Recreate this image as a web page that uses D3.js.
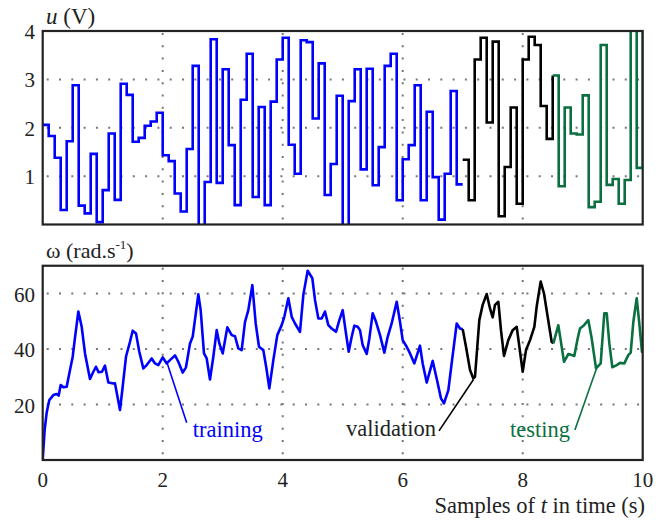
<!DOCTYPE html>
<html><head><meta charset="utf-8">
<script src="https://cdn.jsdelivr.net/npm/d3@7"></script>
</head><body><svg id="c" width="670" height="520"></svg>
<script>
// ---- data ----
const xTicks = [0, 2, 4, 6, 8, 10];
const uTicks = [1, 2, 3, 4];
const wTicks = [20, 40, 60];
const uStep = 0.1;
const uTraining = [2.06,1.83,1.38,0.30,1.72,2.88,0.39,0.23,1.46,0.05,
  0.71,1.88,0.51,2.91,2.68,1.71,1.79,2.04,2.13,2.31,
  1.43,1.31,0.64,0.27,1.56,3.28,-0.1,0.88,3.83,0.86,
  3.21,1.64,0.40,2.58,3.53,0.57,2.43,0.40,2.54,3.41,
  3.86,1.65,1.05,3.81,3.77,2.19,3.33,0.61,1.25,2.66,
  -0.1,2.55,3.21,1.14,3.22,0.81,1.60,3.28,3.53,0.50,
  1.35,1.64,2.88,0.50,2.33,0.98,0.10,1.05,2.76,0.83];
const uValidation = [1.34,0.50,3.41,3.86,2.11,3.78,0.17,1.19,2.42,0.43,3.41,3.88,3.71,2.45,1.77];
const uTesting = [3.08,0.79,2.42,1.88,1.86,2.67,0.36,0.47,3.71,0.82,0.94,0.43,0.92,4.2,1.17];
const uTestingEnd = 4.2;
const uStart = {training: 0, validation: 7.0, testing: 8.5};

const wTraining = [[0,0],[0.033,11],[0.066,17],[0.11,21.6],[0.178,23.4],[0.233,23.8],[0.266,23.2],[0.3,27],[0.344,26.2],[0.4,26.4],
  [0.455,32.4],[0.5,37.2],[0.533,43.2],[0.594,53.5],[0.65,48],[0.705,38.4],[0.788,29.2],[0.844,31.8],[0.888,33.6],[0.933,31.6],
  [0.988,31.8],[1.038,34],[1.094,27.9],[1.177,27.6],[1.205,27.6],[1.288,18],[1.333,26.4],[1.388,37.2],[1.455,42.6],[1.5,46.6],
  [1.555,45.6],[1.61,39],[1.677,33],[1.733,34.2],[1.816,36.6],[1.872,34.8],[1.927,34.2],[2.0,37],[2.066,34.8],[2.122,36],
  [2.205,37.7],[2.26,35.4],[2.333,31.5],[2.388,33.4],[2.455,42],[2.5,44.4],[2.594,59.7],[2.633,54],[2.688,38.4],[2.733,36.6],
  [2.788,29],[2.844,37.2],[2.9,46.8],[2.944,42],[3.0,38.4],[3.077,47.8],[3.15,45],[3.205,44.6],[3.26,40.2],[3.316,39.6],
  [3.372,49.8],[3.427,54],[3.494,63],[3.55,49.2],[3.605,40.8],[3.677,39.6],[3.733,32.4],[3.777,25.8],[3.844,36],[3.91,45],
  [3.983,48.6],[4.027,51.6],[4.094,58.3],[4.15,51.6],[4.205,49.2],[4.288,46.2],[4.344,59.5],[4.416,68.2],[4.494,65.5],[4.538,57.7],
  [4.594,51],[4.65,51],[4.705,53.5],[4.76,48.6],[4.816,47.4],[4.888,46.2],[4.944,50.4],[5.0,54],[5.055,45.6],[5.1,39],
  [5.15,44.4],[5.194,48.4],[5.25,48],[5.288,46.8],[5.333,41.4],[5.4,38.2],[5.444,43.8],[5.5,52.9],[5.555,49.8],[5.622,45],
  [5.694,38.7],[5.75,44.4],[5.816,49.2],[5.9,57],[5.955,49.8],[6.0,43.2],[6.066,40.8],[6.122,38.4],[6.194,34.8],[6.288,41.2],
  [6.333,34.8],[6.4,27.9],[6.5,35.7],[6.566,29.4],[6.638,22.2],[6.688,20.4],[6.761,25.2],[6.816,34.8],[6.9,49.2],[6.955,47.4],[7.0,47.1]];
const wValidation = [[7.0,47.1],[7.055,40.8],[7.122,32.4],[7.177,29.4],[7.205,30],[7.277,50.4],[7.333,55.9],[7.4,59.8],[7.455,54.6],[7.5,51.4],
  [7.538,55.9],[7.594,57],[7.638,46.8],[7.688,37.5],[7.76,43.2],[7.833,46.8],[7.9,48],[8.0,31.8],[8.055,39.6],[8.122,43.2],
  [8.194,48],[8.233,55.3],[8.3,64.3],[8.355,60],[8.416,51.6],[8.483,42.6],[8.511,42]];
const wTesting = [[8.511,42],[8.594,48.6],[8.633,43.2],[8.688,35.4],[8.761,38.2],[8.816,37.8],[8.86,37.5],[8.916,43.8],[8.955,47.4],[9.022,48.6],
  [9.094,50.4],[9.15,43.8],[9.222,33],[9.3,34.8],[9.36,52.9],[9.4,52.9],[9.444,42],[9.494,33.4],[9.566,34.2],[9.622,35],
  [9.694,34.8],[9.76,37.8],[9.8,38.7],[9.844,49.8],[9.9,58.3],[9.938,50.4],[9.988,39],[10.0,39]];

const labels = {training: "training", validation: "validation", testing: "testing"};
// annotation anchors: [text t, text ω, line from t, ω, line to t, ω]
const annTraining = [2.5, 8.3, 2.4, 13.4, 2.067, 35.4];
const annValidation = [6.555, 8.6, 6.605, 10.5, 7.18, 29];
const annTesting = [7.79, 8.3, 8.87, 10.8, 9.23, 33];

// ---- drawing ----
d3.select("body").style("margin", "0px");
const FONT = "Liberation Serif";
const colors = {training: "#0000ff", validation: "#000000", testing: "#0a7040"};
const svg = d3.select("#c").style("display", "block");
const x = d3.scaleLinear([0, 10], [42.7, 642.7]);
const yU = d3.scaleLinear([0, 4], [224.5, 31]);
const yW = d3.scaleLinear([0, 70], [460, 265.75]);

function addText(parent) {
  return parent.append("text").style("font-family", FONT);
}

function panel(y, ticks, id) {
  svg.append("clipPath").attr("id", id).append("rect")
    .attr("x", x(0)).attr("y", y.range()[1]).attr("width", x(10) - x(0)).attr("height", y.range()[0] - y.range()[1]);
  ticks.filter(t => t < y.domain()[1]).forEach(t => {
    svg.append("line").attr("x1", x(0) + 4).attr("x2", x(10)).attr("y1", y(t)).attr("y2", y(t))
      .attr("stroke", "#777").attr("stroke-width", 2).attr("stroke-dasharray", "2,10.3");
  });
  [2, 4, 6, 8].forEach(t => {
    svg.append("line").attr("x1", x(t)).attr("x2", x(t)).attr("y1", y.range()[1] + 2).attr("y2", y.range()[0])
      .attr("stroke", "#777").attr("stroke-width", 2).attr("stroke-dasharray", "2,10.3");
  });
  ticks.forEach(t => {
    addText(svg).attr("x", 35).attr("y", y(t) + 8).attr("text-anchor", "end").attr("fill", "#222")
      .attr("font-size", 21).text(t);
  });
}
panel(yU, uTicks, "clipTop");
panel(yW, wTicks, "clipBot");

function stepPts(vals, t0, endVal) {
  const pts = vals.map((v, i) => [t0 + i * uStep, v]);
  pts.push([t0 + vals.length * uStep, endVal]);
  return pts;
}
const stepLine = d3.line().x(d => x(d[0])).y(d => yU(d[1])).curve(d3.curveStepAfter);
const uSeries = [
  ["training", stepPts(uTraining, uStart.training, uTraining[uTraining.length - 1])],
  ["validation", stepPts(uValidation, uStart.validation, uTesting[0])],
  ["testing", stepPts(uTesting, uStart.testing, uTestingEnd)]
];
svg.append("g").attr("clip-path", "url(#clipTop)").selectAll("path").data(uSeries).join("path")
  .attr("d", d => stepLine(d[1])).attr("fill", "none").attr("stroke", d => colors[d[0]])
  .attr("stroke-width", 2.6).attr("stroke-linejoin", "miter");

const wLine = d3.line().x(d => x(d[0])).y(d => yW(d[1]));
const wSeries = [["training", wTraining], ["validation", wValidation], ["testing", wTesting]];
svg.append("g").attr("clip-path", "url(#clipBot)").selectAll("path").data(wSeries).join("path")
  .attr("d", d => wLine(d[1])).attr("fill", "none").attr("stroke", d => colors[d[0]])
  .attr("stroke-width", 2.6).attr("stroke-linejoin", "round");

[yU, yW].forEach(y => {
  svg.append("rect").attr("x", x(0)).attr("y", y.range()[1]).attr("width", x(10) - x(0))
    .attr("height", y.range()[0] - y.range()[1]).attr("fill", "none").attr("stroke", "#222").attr("stroke-width", 2.2);
});

[["training", annTraining, "start"], ["validation", annValidation, "end"], ["testing", annTesting, "start"]].forEach(([k, a, anchor]) => {
  svg.append("line").attr("x1", x(a[2])).attr("y1", yW(a[3])).attr("x2", x(a[4])).attr("y2", yW(a[5]))
    .attr("stroke", colors[k]).attr("stroke-width", 1.6);
  addText(svg).attr("x", x(a[0])).attr("y", yW(a[1])).attr("text-anchor", anchor)
    .attr("font-size", 22.5).attr("fill", colors[k] === "#000000" ? "#222" : colors[k]).text(labels[k]);
});

xTicks.forEach(t => {
  addText(svg).attr("x", x(t)).attr("y", 487).attr("text-anchor", "middle")
    .attr("font-size", 21).attr("fill", "#222").text(t);
});

const tu = addText(svg).attr("x", 46).attr("y", 24).attr("font-size", 23).attr("fill", "#222");
tu.append("tspan").style("font-style", "italic").text("u");
tu.append("tspan").text(" (V)");
const tw = addText(svg).attr("x", 46).attr("y", 258).attr("font-size", 22).attr("fill", "#222");
tw.append("tspan").text("ω (rad.s");
tw.append("tspan").attr("font-size", 13).attr("dy", -9).text("-1");
tw.append("tspan").attr("dy", 9).text(")");
const tx = addText(svg).attr("x", 645).attr("y", 513).attr("text-anchor", "end")
  .attr("font-size", 22.5).attr("fill", "#222");
tx.append("tspan").text("Samples of ");
tx.append("tspan").style("font-style", "italic").text("t");
tx.append("tspan").text(" in time (s)");
</script></body></html>
